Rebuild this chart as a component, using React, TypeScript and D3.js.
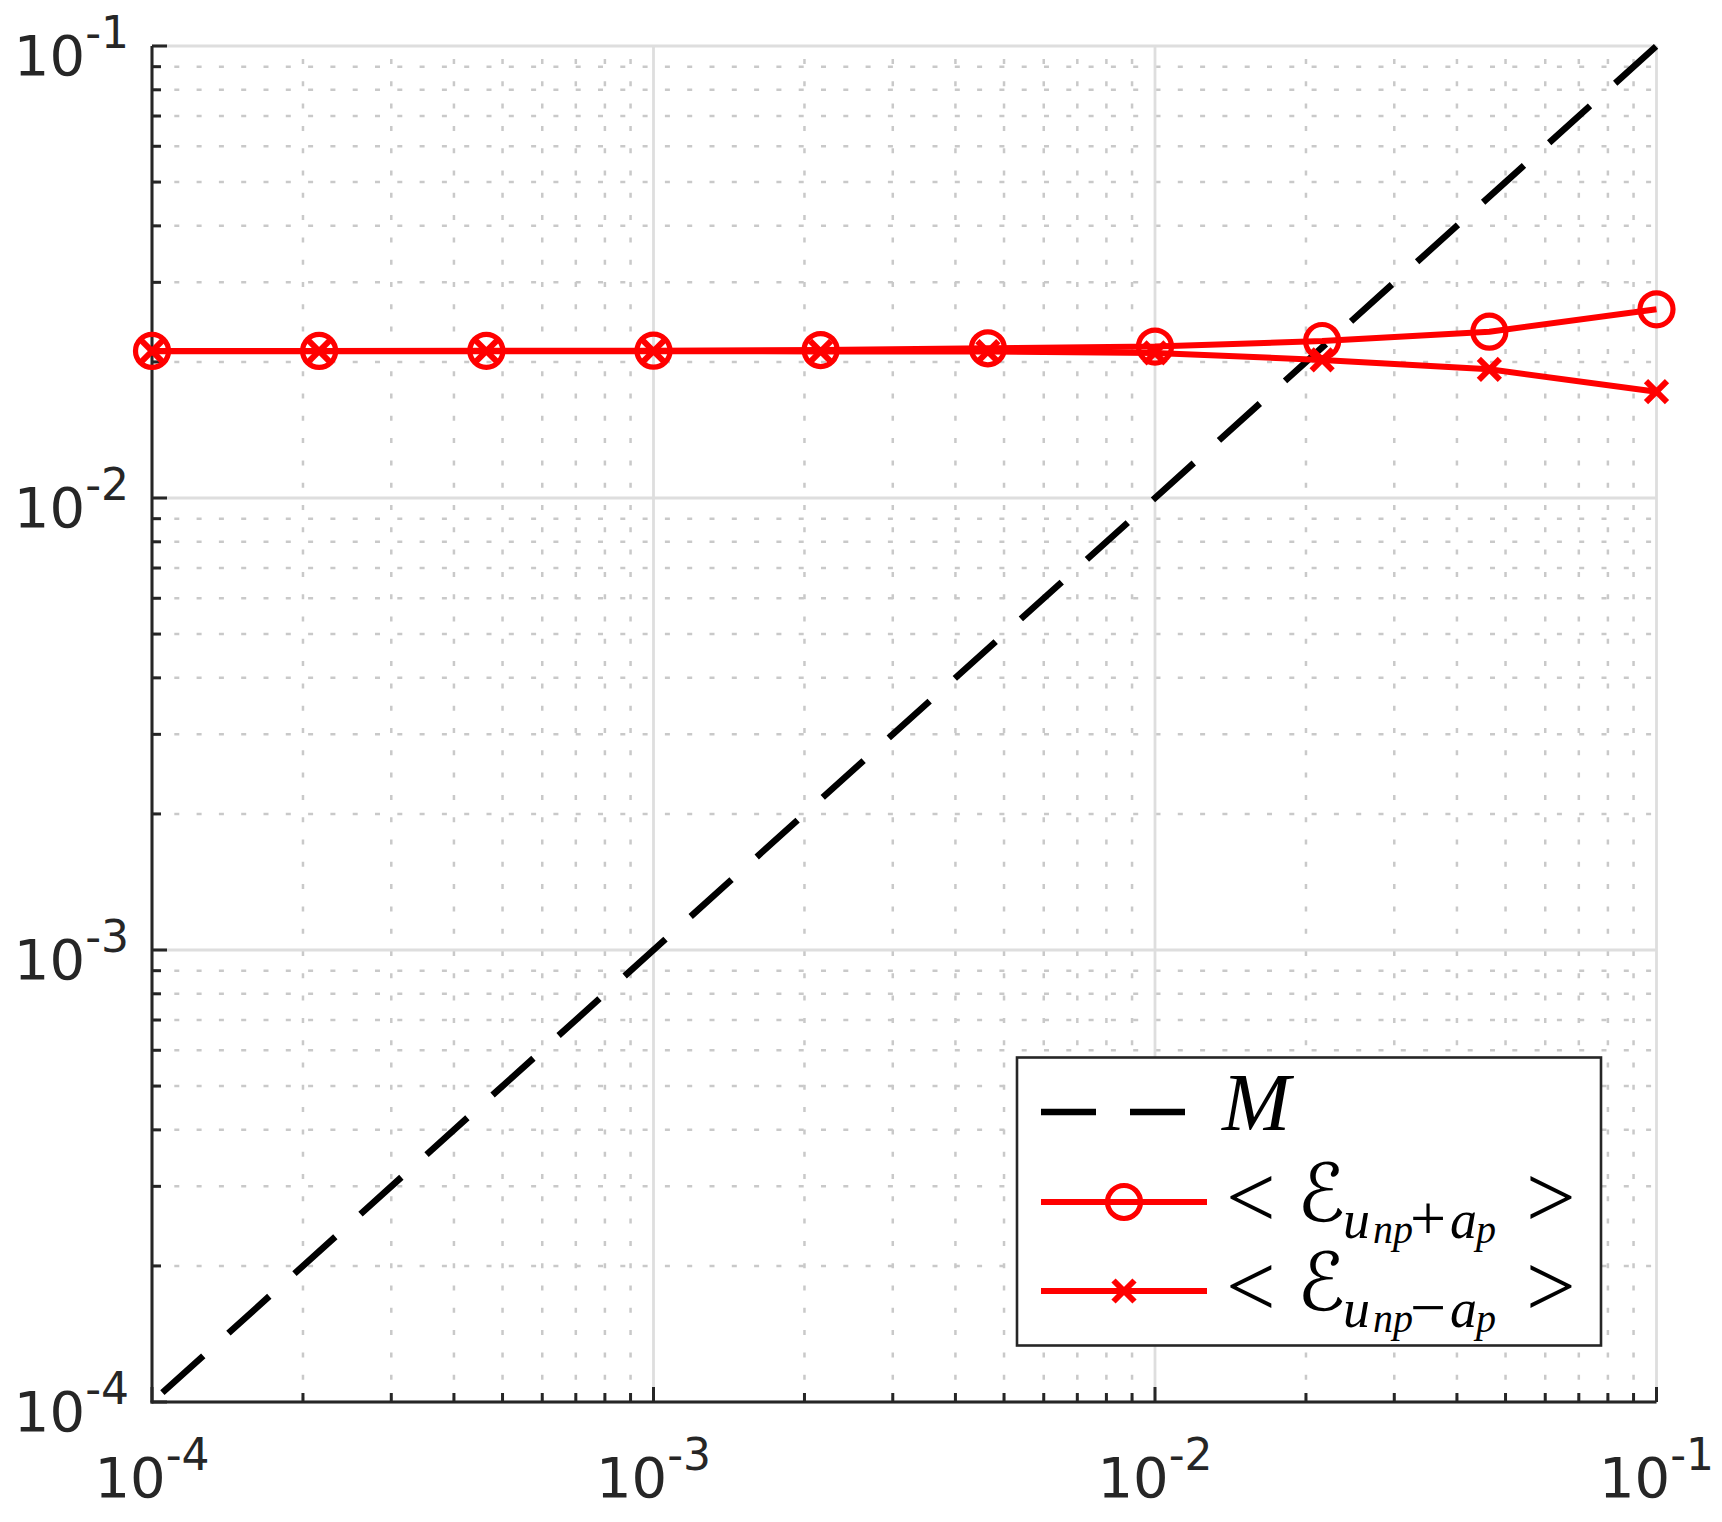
import React, { useEffect, useRef } from 'react';
import * as d3 from 'd3';

// step size h (logspace from 1e-4 to 1e-1)
const stepSizes = [1e-4, 2.154e-4, 4.642e-4, 1e-3, 2.154e-3, 4.642e-3, 1e-2, 2.154e-2, 4.642e-2, 1e-1];
// reference line M = h
const refLine = [1e-4, 1e-1];
// mean errors
const errPlus = [0.02115, 0.02115, 0.02116, 0.02118, 0.02125, 0.02144, 0.02163, 0.02225, 0.02333, 0.02615];
const errMinus = [0.02112, 0.02112, 0.02112, 0.02112, 0.02110, 0.02108, 0.02094, 0.0202, 0.01926, 0.01719];
const decades = [-4, -3, -2, -1];

const W = 1722;
const H = 1522;
const AX = '#262626';
const RED = '#ff0000';

const App = () => {
  const svgRef = useRef<SVGSVGElement>(null);

  useEffect(() => {
    const svg = d3.select(svgRef.current);
    svg.selectAll('*').remove();

    const x = d3.scaleLog().domain([1e-4, 1e-1]).range([152, 1656.5]);
    const y = d3.scaleLog().domain([1e-4, 1e-1]).range([1402, 46]);
    const [x0, x1] = x.range();
    const [y0, y1] = y.range();

    const allTicks = x.ticks();
    const isMajor = (v: number) => Math.abs(Math.log10(v) - Math.round(Math.log10(v))) < 1e-9;
    const minor = allTicks.filter(v => !isMajor(v));
    const major = allTicks.filter(isMajor);

    const grid = svg.append('g');
    // minor grid (dotted)
    minor.forEach(v => {
      grid.append('line').attr('x1', x(v)).attr('x2', x(v)).attr('y1', y0).attr('y2', y1)
        .attr('stroke', '#c9c9c9').attr('stroke-width', 2.5).attr('stroke-dasharray', '5,17.3');
      grid.append('line').attr('x1', x0).attr('x2', x1).attr('y1', y(v)).attr('y2', y(v))
        .attr('stroke', '#c9c9c9').attr('stroke-width', 2.5).attr('stroke-dasharray', '5,17.3');
    });
    // major grid
    major.forEach(v => {
      grid.append('line').attr('x1', x(v)).attr('x2', x(v)).attr('y1', y0).attr('y2', y1)
        .attr('stroke', '#dedede').attr('stroke-width', 2.8);
      grid.append('line').attr('x1', x0).attr('x2', x1).attr('y1', y(v)).attr('y2', y(v))
        .attr('stroke', '#dedede').attr('stroke-width', 2.8);
    });

    // axes lines + ticks (inward)
    const ax = svg.append('g').attr('stroke', AX).attr('stroke-width', 3);
    ax.append('line').attr('x1', x0).attr('x2', x0).attr('y1', y0 + 1.5).attr('y2', y1);
    ax.append('line').attr('x1', x0 - 1.5).attr('x2', x1).attr('y1', y0).attr('y2', y0);
    allTicks.forEach(v => {
      const len = isMajor(v) ? 15 : 9;
      ax.append('line').attr('x1', x0).attr('x2', x0 + len).attr('y1', y(v)).attr('y2', y(v));
      ax.append('line').attr('x1', x(v)).attr('x2', x(v)).attr('y1', y0).attr('y2', y0 - len);
    });

    // tick labels
    const font = '"DejaVu Sans", sans-serif';
    decades.forEach(e => {
      const ty = svg.append('text').attr('x', x0 - 23).attr('y', y(10 ** e) + 28.5)
        .attr('text-anchor', 'end').attr('font-family', font).attr('fill', AX).attr('font-size', 56);
      ty.append('tspan').text('10');
      ty.append('tspan').attr('dy', -27).attr('font-size', 44).text(`-${-e}`);

      const tx = svg.append('text').attr('x', x(10 ** e)).attr('y', y0 + 95)
        .attr('text-anchor', 'middle').attr('font-family', font).attr('fill', AX).attr('font-size', 56);
      tx.append('tspan').text('10');
      tx.append('tspan').attr('dy', -27).attr('font-size', 44).text(`-${-e}`);
    });

    // reference line M
    const line = d3.line<[number, number]>().x(d => x(d[0])).y(d => y(d[1]));
    svg.append('path')
      .attr('d', line(refLine.map(v => [v, v] as [number, number])))
      .attr('fill', 'none').attr('stroke', '#000').attr('stroke-width', 6.5)
      .attr('stroke-dasharray', '55,33.9').attr('stroke-dashoffset', 74.9);

    const plotSeries = (vals: number[]) => {
      svg.append('path')
        .attr('d', line(stepSizes.map((h, i) => [h, vals[i]] as [number, number])))
        .attr('fill', 'none').attr('stroke', RED).attr('stroke-width', 6).attr('stroke-linejoin', 'round');
    };
    plotSeries(errPlus);
    plotSeries(errMinus);

    const drawCircle = (g: any, cx: number, cy: number) => {
      g.append('circle').attr('cx', cx).attr('cy', cy).attr('r', 16.5)
        .attr('fill', 'none').attr('stroke', RED).attr('stroke-width', 5.2);
    };
    const drawCross = (g: any, cx: number, cy: number) => {
      const s = 10.5;
      g.append('path')
        .attr('d', `M${cx - s},${cy - s}L${cx + s},${cy + s}M${cx - s},${cy + s}L${cx + s},${cy - s}`)
        .attr('stroke', RED).attr('stroke-width', 6).attr('fill', 'none');
    };
    const marks = svg.append('g');
    stepSizes.forEach((h, i) => drawCircle(marks, x(h), y(errPlus[i])));
    stepSizes.forEach((h, i) => drawCross(marks, x(h), y(errMinus[i])));

    // legend
    const lg = svg.append('g');
    lg.append('rect').attr('x', 1017).attr('y', 1057.5).attr('width', 584).attr('height', 288)
      .attr('fill', '#fff').attr('stroke', AX).attr('stroke-width', 2.6);
    const rows = [1112, 1202, 1291];
    const lx0 = 1041, lx1 = 1207, lmid = 1124;
    lg.append('line').attr('x1', lx0).attr('x2', lx1).attr('y1', rows[0]).attr('y2', rows[0])
      .attr('stroke', '#000').attr('stroke-width', 6.5).attr('stroke-dasharray', '55,34');
    [1, 2].forEach(r => {
      lg.append('line').attr('x1', lx0).attr('x2', lx1).attr('y1', rows[r]).attr('y2', rows[r])
        .attr('stroke', RED).attr('stroke-width', 6);
    });
    drawCircle(lg, lmid, rows[1]);
    drawCross(lg, lmid, rows[2]);

    const serif = '"Liberation Serif", "DejaVu Serif", serif';
    lg.append('text').attr('x', 1222).attr('y', rows[0] + 18).attr('font-family', serif)
      .attr('font-style', 'italic').attr('font-size', 82).attr('fill', '#000').text('M');

    const mathLabel = (rowY: number, sign: string) => {
      const b = rowY + 19;
      const t = lg.append('text').attr('font-family', serif).attr('fill', '#000');
      t.append('tspan').attr('x', 1226).attr('y', rowY + 25).attr('font-size', 88).text('<');
      t.append('tspan').attr('x', 1297).attr('y', b).attr('font-size', 80)
        .attr('font-family', '"DejaVu Serif", "DejaVu Sans", serif').attr('font-style', 'italic').text('\u2130');
      t.append('tspan').attr('x', 1343).attr('y', b + 17).attr('font-size', 54).attr('font-style', 'italic').text('u');
      t.append('tspan').attr('x', 1373).attr('y', b + 22).attr('font-size', 40).attr('font-style', 'italic').text('np');
      t.append('tspan').attr('x', 1410).attr('y', b + 19).attr('font-size', 64).text(sign);
      t.append('tspan').attr('x', 1450).attr('y', b + 17).attr('font-size', 54).attr('font-style', 'italic').text('a');
      t.append('tspan').attr('x', 1476).attr('y', b + 22).attr('font-size', 40).attr('font-style', 'italic').text('p');
      t.append('tspan').attr('x', 1526).attr('y', rowY + 25).attr('font-size', 88).text('>');
    };
    mathLabel(rows[1], '+');
    mathLabel(rows[2], '\u2212');
  }, []);

  return (
    <div style={{ position: 'absolute', left: 0, top: 0 }}>
      <svg ref={svgRef} width={W} height={H} style={{ display: 'block', background: '#fff' }} />
    </div>
  );
};

export default App;
